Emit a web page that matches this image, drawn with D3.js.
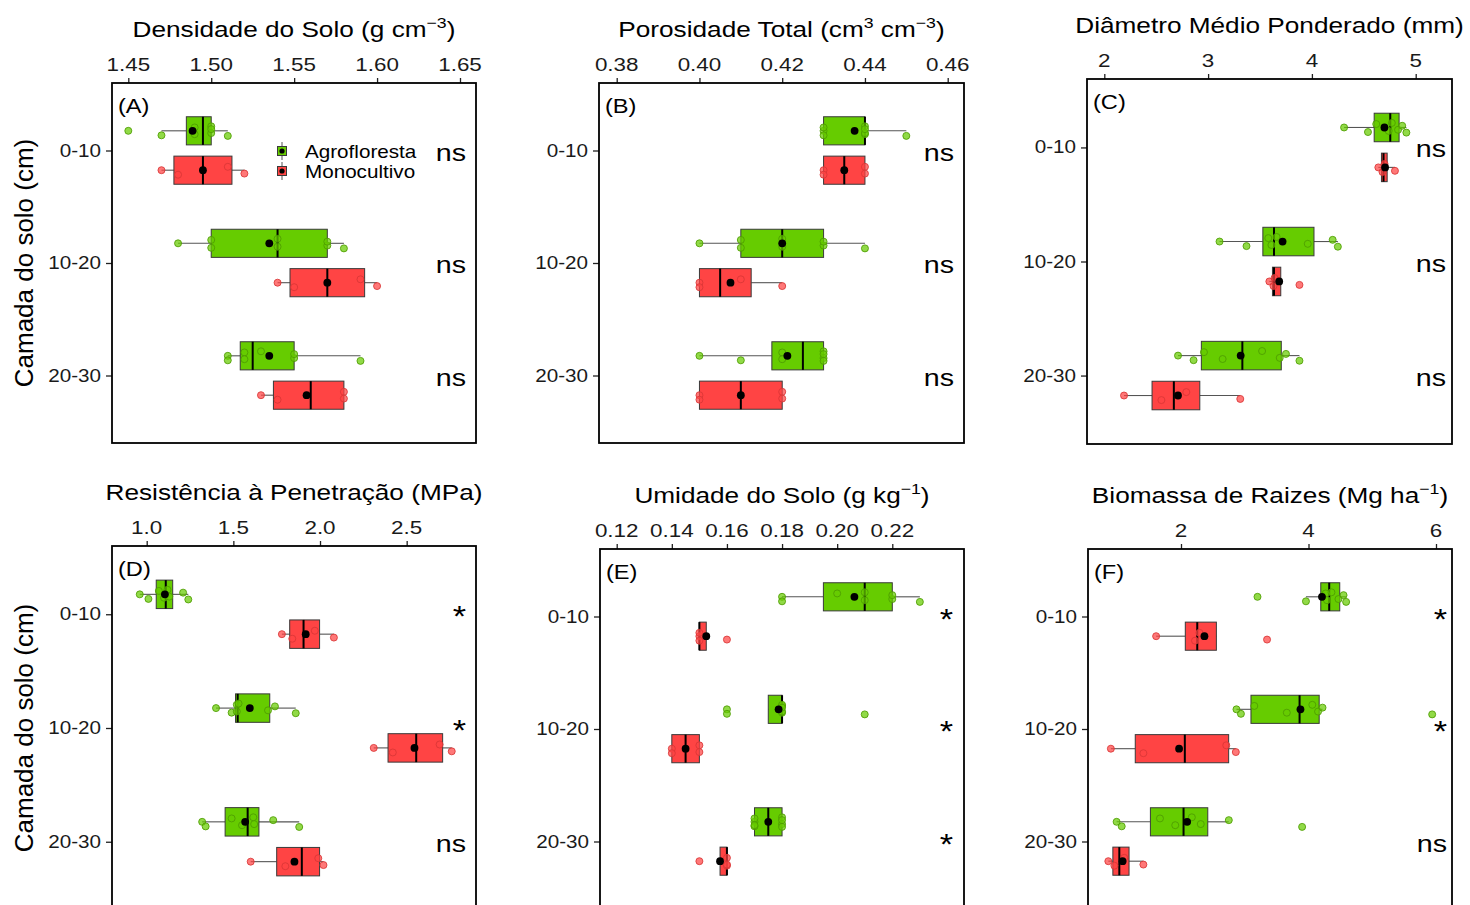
<!DOCTYPE html>
<html><head><meta charset="utf-8">
<script src="https://cdn.jsdelivr.net/npm/d3@7"></script>
<style>
body{margin:0;background:#fff}
text{font-family:"Liberation Sans",Arial,sans-serif;fill:#000}
</style>
</head><body>
<svg id="chart" width="1470" height="905"></svg>
<script>
// ---------------- data ----------------
const depths = ["0-10", "10-20", "20-30"];
const treatments = ["Agrofloresta", "Monocultivo"];

// (A) Densidade do Solo
const densAgro = [[1.45,1.47,1.49,1.49,1.50,1.50,1.50,1.51],[1.48,1.50,1.50,1.54,1.54,1.57,1.57,1.58],[1.51,1.51,1.52,1.52,1.53,1.55,1.55,1.59]];
const densMono = [[1.47,1.48,1.51,1.52],[1.54,1.55,1.59,1.60],[1.53,1.54,1.58,1.58]];
const densTicks = [1.45,1.50,1.55,1.60,1.65];
const densSig = ["ns","ns","ns"];

// (B) Porosidade Total
const poroAgro = [[0.43,0.43,0.43,0.44,0.44,0.44,0.44,0.45],[0.40,0.41,0.41,0.42,0.42,0.43,0.43,0.44],[0.40,0.41,0.42,0.42,0.43,0.43,0.43,0.43]];
const poroMono = [[0.43,0.43,0.44,0.44],[0.40,0.40,0.41,0.42],[0.40,0.40,0.42,0.42]];
const poroTicks = [0.38,0.40,0.42,0.44,0.46];
const poroSig = ["ns","ns","ns"];

// (C) Diâmetro Médio Ponderado
const dmpAgro = [[4.31,4.54,4.62,4.74,4.77,4.83,4.87,4.91],[3.11,3.37,3.58,3.61,3.66,3.96,4.20,4.25],[2.71,2.86,2.96,3.14,3.52,3.69,3.75,3.88]];
const dmpMono = [[4.64,4.68,4.70,4.80],[3.59,3.63,3.64,3.88],[2.19,2.55,2.79,3.31]];
const dmpTicks = [2,3,4,5];
const dmpSig = ["ns","ns","ns"];

// (D) Resistência à Penetração
const rpAgro = [[0.96,1.01,1.07,1.10,1.12,1.13,1.21,1.24],[1.40,1.49,1.52,1.52,1.53,1.70,1.74,1.86],[1.32,1.34,1.49,1.55,1.615,1.62,1.73,1.88]];
const rpMono = [[1.78,1.84,1.97,2.08],[2.31,2.42,2.69,2.76],[1.60,1.80,1.99,2.02]];
const rpTicks = [1.0,1.5,2.0,2.5];
const rpSig = ["*","*","ns"];

// (E) Umidade do Solo
const umAgro = [[0.18,0.18,0.20,0.21,0.21,0.22,0.22,0.23],[0.16,0.16,0.18,0.18,0.18,0.18,0.18,0.21],[0.17,0.17,0.17,0.17,0.18,0.18,0.18,0.18]];
const umMono = [[0.15,0.15,0.15,0.16],[0.14,0.14,0.15,0.15],[0.15,0.16,0.16,0.16]];
const umTicks = [0.12,0.14,0.16,0.18,0.20,0.22];
const umSig = ["*","*","*"];

// (F) Biomassa de Raizes
const bioAgro = [[3.20,3.96,4.27,4.29,4.36,4.47,4.55,4.59],[2.87,2.94,3.15,3.66,4.06,4.15,4.22,5.94],[0.99,1.07,1.67,1.91,2.17,2.31,2.75,3.90]];
const bioMono = [[1.61,2.22,2.29,3.35],[0.90,1.41,2.71,2.86],[0.86,0.955,1.11,1.41]];
const bioTicks = [2,4,6];
const bioSig = ["*","*","ns"];

// fixed vertical jitter pattern (fraction of category step)
const jitterPattern = [0.00, 0.04, -0.03, 0.03, -0.04, 0.02, -0.015, 0.045];

// ---------------- layout / style ----------------
const SX = 1.18; // horizontal text stretch of the reference
const colors = {Agrofloresta: "#66cc00", Monocultivo: "#ff4444"};
const ptStroke = {Agrofloresta: "#4e9c00", Monocultivo: "#d93636"};

const panels = [
  {lab:"(A)", title:[["Densidade do Solo (g cm",0],["\u22123",1],[")",0]], agro:densAgro, mono:densMono, ticks:densTicks, fmt:".2f", sig:densSig,
   domain:[1.44017,1.65965], x0:112, x1:476, y0:83, y1:443, sigX:466, legend:true, ytitle:true},
  {lab:"(B)", title:[["Porosidade Total (cm",0],["3",1],[" cm",0],["\u22123",1],[")",0]], agro:poroAgro, mono:poroMono, ticks:poroTicks, fmt:".2f", sig:poroSig,
   domain:[0.37572,0.46394], x0:599, x1:964, y0:83, y1:443, sigX:954},
  {lab:"(C)", title:[["Di\u00e2metro M\u00e9dio Ponderado (mm)",0]], agro:dmpAgro, mono:dmpMono, ticks:dmpTicks, fmt:"d", sig:dmpSig,
   domain:[1.8333,5.3497], x0:1087, x1:1452, y0:79, y1:444, sigX:1446},
  {lab:"(D)", title:[["Resist\u00eancia \u00e0 Penetra\u00e7\u00e3o (MPa)",0]], agro:rpAgro, mono:rpMono, ticks:rpTicks, fmt:".1f", sig:rpSig,
   domain:[0.7998,2.9], x0:112, x1:476, y0:546, y1:910, sigX:466, ytitle:true},
  {lab:"(E)", title:[["Umidade do Solo (g kg",0],["\u22121",1],[")",0]], agro:umAgro, mono:umMono, ticks:umTicks, fmt:".2f", sig:umSig,
   domain:[0.11394,0.24602], x0:600, x1:964, y0:549, y1:909, sigX:953},
  {lab:"(F)", title:[["Biomassa de Raizes (Mg ha",0],["\u22121",1],[")",0]], agro:bioAgro, mono:bioMono, ticks:bioTicks, fmt:"d", sig:bioSig,
   domain:[0.5412,6.251], x0:1088, x1:1452, y0:549, y1:909, sigX:1447}
];

const FS = {title:22.2, sup:15, xtick:19, ytick:17.5, sig:24.3, star:29, legend:17.5, lab:20, ytitle:26};

const svg = d3.select("#chart");

function stext(parent, x, y, size, anchor) {
  const g = parent.append("g").attr("transform", `translate(${x},${y}) scale(${SX},1)`);
  return g.append("text").attr("x", 0).attr("y", 0).attr("font-size", size).attr("text-anchor", anchor);
}

function stats(vals) {
  const s = vals.slice().sort(d3.ascending);
  const q1 = d3.quantileSorted(s, 0.25), med = d3.quantileSorted(s, 0.5), q3 = d3.quantileSorted(s, 0.75);
  const iqr = q3 - q1, eps = 1e-9;
  const lo = d3.min(s.filter(v => v >= q1 - 1.5 * iqr - eps));
  const hi = d3.max(s.filter(v => v <= q3 + 1.5 * iqr + eps));
  return {q1, med, q3, lo, hi, mean: d3.mean(s)};
}

panels.forEach(p => {
  const g = svg.append("g");
  const x = d3.scaleLinear().domain(p.domain).range([p.x0, p.x1]);
  const y = d3.scalePoint().domain(depths).range([p.y0, p.y1]).padding(0.6);
  const step = y.step();
  const dodge = {Agrofloresta: -0.175 * step, Monocultivo: 0.175 * step};
  const half = 0.125 * step;

  // title
  const t = stext(g, (p.x0 + p.x1) / 2, p.y0 - 46, FS.title, "middle");
  let raised = false;
  p.title.forEach(([str, sup]) => {
    const ts = t.append("tspan").text(str);
    if (sup && !raised) { ts.attr("font-size", FS.sup).attr("dy", -9.5); raised = true; }
    else if (!sup && raised) { ts.attr("dy", 9.5); raised = false; }
    else if (sup) ts.attr("font-size", FS.sup);
  });

  // x axis (top)
  const ax = d3.axisTop(x).tickValues(p.ticks).tickSize(5).tickFormat(d3.format(p.fmt));
  const axg = g.append("g").attr("transform", `translate(0,${p.y0})`).call(ax);
  axg.select(".domain").remove();
  axg.selectAll(".tick line").attr("stroke", "#222").attr("stroke-width", 1.3);
  axg.selectAll(".tick text").remove();
  p.ticks.forEach(v => {
    stext(g, x(v), p.y0 - 12, FS.xtick, "middle").style("fill", "#1a1a1a").text(d3.format(p.fmt)(v));
  });

  // y axis (left)
  const ay = d3.axisLeft(y).tickSize(6);
  const ayg = g.append("g").attr("transform", `translate(${p.x0},0)`).call(ay);
  ayg.select(".domain").remove();
  ayg.selectAll(".tick line").attr("stroke", "#222").attr("stroke-width", 1.3);
  ayg.selectAll(".tick text").remove();
  depths.forEach(d => {
    stext(g, p.x0 - 11, y(d) + 6, FS.ytick, "end").style("fill", "#1a1a1a").text(d);
  });

  // boxes
  treatments.forEach(tr => {
    const data = tr === "Agrofloresta" ? p.agro : p.mono;
    depths.forEach((d, i) => {
      const st = stats(data[i]);
      const cy = y(d) + dodge[tr];
      g.append("line").attr("x1", x(st.lo)).attr("x2", x(st.q1)).attr("y1", cy).attr("y2", cy)
        .attr("stroke", "#555").attr("stroke-width", 1.1);
      g.append("line").attr("x1", x(st.q3)).attr("x2", x(st.hi)).attr("y1", cy).attr("y2", cy)
        .attr("stroke", "#555").attr("stroke-width", 1.1);
      g.append("rect").attr("x", x(st.q1)).attr("y", cy - half)
        .attr("width", Math.max(0, x(st.q3) - x(st.q1))).attr("height", 2 * half)
        .attr("fill", colors[tr]).attr("stroke", "#3a3a3a").attr("stroke-width", 1);
      g.append("line").attr("x1", x(st.med)).attr("x2", x(st.med)).attr("y1", cy - half).attr("y2", cy + half)
        .attr("stroke", "#000").attr("stroke-width", 2);
      data[i].forEach((v, k) => {
        g.append("circle").attr("cx", x(v)).attr("cy", cy + jitterPattern[k % jitterPattern.length] * step)
          .attr("r", 3.5).attr("fill", colors[tr]).attr("fill-opacity", 0.72)
          .attr("stroke", ptStroke[tr]).attr("stroke-opacity", 0.85).attr("stroke-width", 1);
      });
      g.append("circle").attr("cx", x(st.mean)).attr("cy", cy).attr("r", 3.9).attr("fill", "#000");
    });
  });

  // significance labels
  depths.forEach((d, i) => {
    const isStar = p.sig[i] === "*";
    stext(g, p.sigX, y(d) + (isStar ? 12 : 10), isStar ? FS.star : FS.sig, "end").text(p.sig[i]);
  });

  // panel label
  stext(g, p.x0 + 6, p.y0 + 30, FS.lab, "start").text(p.lab);

  // frame
  g.append("rect").attr("x", p.x0).attr("y", p.y0).attr("width", p.x1 - p.x0).attr("height", p.y1 - p.y0)
    .attr("fill", "none").attr("stroke", "#000").attr("stroke-width", 1.8);

  // y title
  if (p.ytitle) {
    svg.append("text").attr("transform", `translate(33,${y(depths[1])}) rotate(-90)`)
      .attr("text-anchor", "middle").attr("font-size", FS.ytitle).text("Camada do solo (cm)");
  }

  // legend
  if (p.legend) {
    treatments.forEach((tr, i) => {
      const ly = 151 + i * 20;
      const lx = 282;
      g.append("line").attr("x1", lx).attr("x2", lx).attr("y1", ly - 9).attr("y2", ly + 9)
        .attr("stroke", "#555").attr("stroke-width", 1);
      g.append("rect").attr("x", lx - 4.5).attr("y", ly - 4.5).attr("width", 9).attr("height", 9)
        .attr("fill", colors[tr]).attr("stroke", "#3a3a3a").attr("stroke-width", 1);
      g.append("circle").attr("cx", lx).attr("cy", ly).attr("r", 2.6).attr("fill", "#000");
      stext(g, 305, ly + 7, FS.legend, "start").text(tr);
    });
  }
});
</script>
</body></html>
